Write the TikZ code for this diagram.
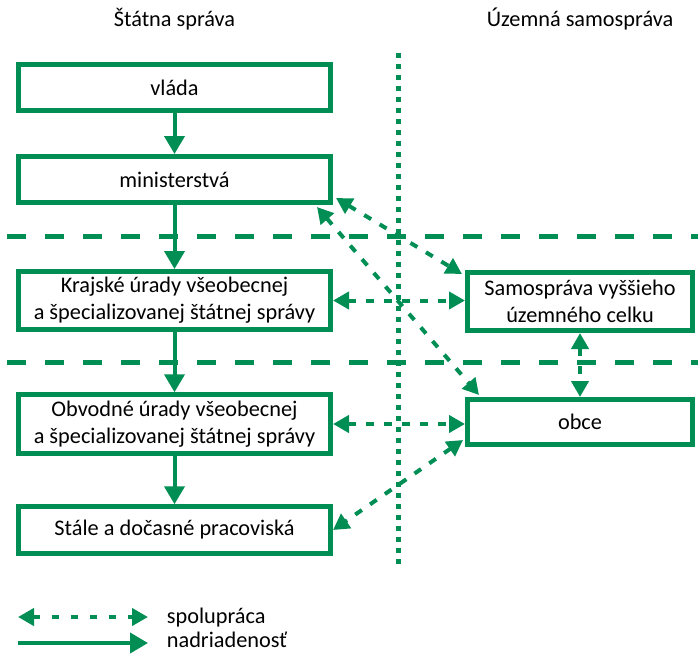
\documentclass[tikz,border=0pt]{standalone}
\usepackage{fontspec}
\setmainfont{Carlito}
\usetikzlibrary{arrows.meta}
\definecolor{zelena}{RGB}{0,142,84}

\begin{document}
\begin{tikzpicture}[x=1pt,y=-1pt,
	every node/.style={font=\fontsize{22.3}{27}\selectfont},
	box/.style={draw=zelena,line width=5pt,minimum width=312pt,align=center,inner sep=0pt},
	sub/.style={draw=zelena,line width=4pt,-{Triangle[length=18pt,width=20pt]}},
	coop/.style={draw=zelena,line width=4pt,dash pattern=on 8pt off 10pt,{Triangle[length=16pt,width=17pt]}-{Triangle[length=16pt,width=17pt]}},
	sep/.style={draw=zelena,line width=5pt,dash pattern=on 19pt off 19pt}]
			\useasboundingbox (0,0) rectangle (698,653);
			\draw[sep] (7,236.7) -- (698,236.7);
			\draw[sep] (7,362.7) -- (698,362.7);
			\draw[zelena,line width=5pt,dash pattern=on 5pt off 6pt] (398,53) -- (398,567);
			\node[anchor=base] (titl) at (174.5,26.7) {Štátna správa};
			\node[anchor=base] (titr) at (580,26.7) {Územná samospráva};
			\node[box,minimum height=46pt] (vlada) at (174.5,87.5) {vláda};
			\node[box,minimum height=46pt] (minis) at (174.5,179.5) {ministerstvá};
			\node[box,minimum height=58pt] (kraj) at (174.5,300.5) {Krajské úrady všeobecnej\\a špecializovanej štátnej správy};
			\node[box,minimum height=58.5pt] (obv) at (174.5,424) {Obvodné úrady všeobecnej\\a špecializovanej štátnej správy};
			\node[box,minimum height=46.5pt] (stale) at (174.5,530) {Stále a dočasné pracoviská};
			\node[box,minimum width=225pt,minimum height=58pt] (samo) at (580,301.5) {Samospráva vyššieho\\územného celku};
			\node[box,minimum width=225pt,minimum height=45pt] (obce) at (580,422) {obce};
			\draw[sub] (vlada.south) -- (minis.north);
			\draw[sub] (minis.south) -- (kraj.north);
			\draw[sub] (kraj.south) -- (obv.north);
			\draw[sub] (obv.south) -- (stale.north);
			\draw[coop] ([shift={(3,-7)}]minis.south east) -- ([shift={(-3,4)}]samo.north west);
			\draw[coop] ([shift={(-16,2)}]minis.south east) -- ([shift={(14,-2)}]obce.north west);
			\draw[coop] (kraj.east) -- (kraj.east -| samo.west);
			\draw[coop] (obv.east) -- (obv.east -| obce.west);
			\draw[coop] ([shift={(-2,-7)}]obce.south west) -- (stale.east);
			\draw[coop] (samo.south) -- (obce.north);
			\coordinate (lega) at (18,617);
			\coordinate (legb) at (148,617);
			\coordinate (legc) at (18,643);
			\coordinate (legd) at (148,643);
			\draw[coop,dash pattern=on 7pt off 12pt] (lega) -- (legb);
			\draw[sub] (legc) -- (legd);
			\node[anchor=base west,inner sep=0pt] (spol) at (166.7,623.5) {spolupráca};
			\node[anchor=base west,inner sep=0pt] (nadr) at (166.7,647) {nadriadenosť};
		\end{tikzpicture}
\end{document}
